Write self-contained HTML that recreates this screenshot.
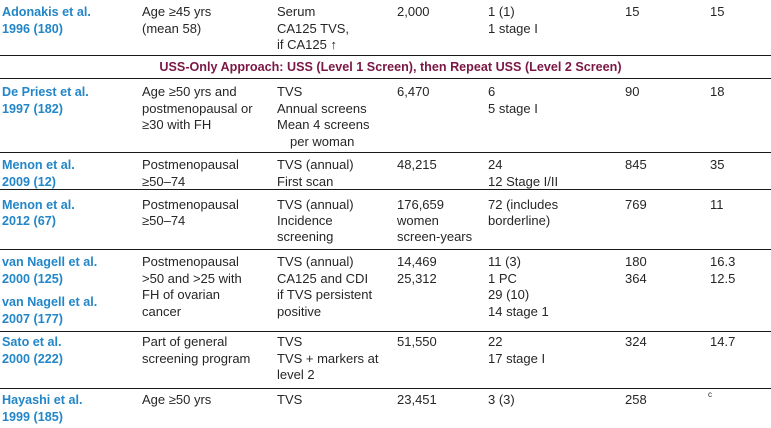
<!DOCTYPE html>
<html>
<head>
<meta charset="utf-8">
<style>
html,body{margin:0;padding:0;background:#fff;}
body{width:771px;height:428px;position:relative;overflow:hidden;font-family:"Liberation Sans",sans-serif;color:#262626;}
.c{position:absolute;font-size:13px;line-height:16.4px;white-space:nowrap;}
.b{font-weight:bold;color:#2286c8;font-size:12.6px;}
.h{position:absolute;left:0;width:771px;height:1px;background:#1a1a1a;}
.hd{position:absolute;left:5px;width:771px;text-align:center;top:59.3px;font-size:12.6px;line-height:16.4px;font-weight:bold;color:#7a1745;white-space:nowrap;}
.ind{padding-left:13px;}
</style>
</head>
<body>
<!-- rules -->
<div class="h" style="top:55px"></div>
<div class="h" style="top:78px"></div>
<div class="h" style="top:152px"></div>
<div class="h" style="top:189px"></div>
<div class="h" style="top:249px"></div>
<div class="h" style="top:331px"></div>
<div class="h" style="top:388px"></div>

<!-- Row 1 -->
<div class="c b" style="left:2px;top:4.3px">Adonakis et al.<br>1996 (180)</div>
<div class="c" style="left:142px;top:4.3px">Age ≥45 yrs<br>(mean 58)</div>
<div class="c" style="left:277px;top:4.3px">Serum<br>CA125 TVS,<br>if CA125 ↑</div>
<div class="c" style="left:397px;top:4.3px">2,000</div>
<div class="c" style="left:488px;top:4.3px">1 (1)<br>1 stage I</div>
<div class="c" style="left:625px;top:4.3px">15</div>
<div class="c" style="left:710px;top:4.3px">15</div>

<!-- Header -->
<div class="hd">USS-Only Approach: USS (Level 1 Screen), then Repeat USS (Level 2 Screen)</div>

<!-- De Priest -->
<div class="c b" style="left:2px;top:84.3px">De Priest et al.<br>1997 (182)</div>
<div class="c" style="left:142px;top:84.3px">Age ≥50 yrs and<br>postmenopausal or<br>≥30 with FH</div>
<div class="c" style="left:277px;top:84.3px">TVS<br>Annual screens<br>Mean 4 screens<br><span class="ind">per woman</span></div>
<div class="c" style="left:397px;top:84.3px">6,470</div>
<div class="c" style="left:488px;top:84.3px">6<br>5 stage I</div>
<div class="c" style="left:625px;top:84.3px">90</div>
<div class="c" style="left:710px;top:84.3px">18</div>

<!-- Menon 2009 -->
<div class="c b" style="left:2px;top:157.3px">Menon et al.<br>2009 (12)</div>
<div class="c" style="left:142px;top:157.3px">Postmenopausal<br>≥50–74</div>
<div class="c" style="left:277px;top:157.3px">TVS (annual)<br>First scan</div>
<div class="c" style="left:397px;top:157.3px">48,215</div>
<div class="c" style="left:488px;top:157.3px">24<br>12 Stage I/II</div>
<div class="c" style="left:625px;top:157.3px">845</div>
<div class="c" style="left:710px;top:157.3px">35</div>

<!-- Menon 2012 -->
<div class="c b" style="left:2px;top:196.5px">Menon et al.<br>2012 (67)</div>
<div class="c" style="left:142px;top:196.5px">Postmenopausal<br>≥50–74</div>
<div class="c" style="left:277px;top:196.5px">TVS (annual)<br>Incidence<br>screening</div>
<div class="c" style="left:397px;top:196.5px">176,659<br>women<br>screen-years</div>
<div class="c" style="left:488px;top:196.5px">72 (includes<br>borderline)</div>
<div class="c" style="left:625px;top:196.5px">769</div>
<div class="c" style="left:710px;top:196.5px">11</div>

<!-- van Nagell -->
<div class="c b" style="left:2px;top:254.3px">van Nagell et al.<br>2000 (125)</div>
<div class="c b" style="left:2px;top:294.3px">van Nagell et al.<br>2007 (177)</div>
<div class="c" style="left:142px;top:254.3px">Postmenopausal<br>&gt;50 and &gt;25 with<br>FH of ovarian<br>cancer</div>
<div class="c" style="left:277px;top:254.3px">TVS (annual)<br>CA125 and CDI<br>if TVS persistent<br>positive</div>
<div class="c" style="left:397px;top:254.3px">14,469<br>25,312</div>
<div class="c" style="left:488px;top:254.3px">11 (3)<br>1 PC<br>29 (10)<br>14 stage 1</div>
<div class="c" style="left:625px;top:254.3px">180<br>364</div>
<div class="c" style="left:710px;top:254.3px">16.3<br>12.5</div>

<!-- Sato -->
<div class="c b" style="left:2px;top:334.3px">Sato et al.<br>2000 (222)</div>
<div class="c" style="left:142px;top:334.3px">Part of general<br>screening program</div>
<div class="c" style="left:277px;top:334.3px">TVS<br>TVS + markers at<br>level 2</div>
<div class="c" style="left:397px;top:334.3px">51,550</div>
<div class="c" style="left:488px;top:334.3px">22<br>17 stage I</div>
<div class="c" style="left:625px;top:334.3px">324</div>
<div class="c" style="left:710px;top:334.3px">14.7</div>

<!-- Hayashi -->
<div class="c b" style="left:2px;top:392.3px">Hayashi et al.<br>1999 (185)</div>
<div class="c" style="left:142px;top:392.3px">Age ≥50 yrs</div>
<div class="c" style="left:277px;top:392.3px">TVS</div>
<div class="c" style="left:397px;top:392.3px">23,451</div>
<div class="c" style="left:488px;top:392.3px">3 (3)</div>
<div class="c" style="left:625px;top:392.3px">258</div>
<div class="c" style="left:708px;top:390px;font-size:8px;line-height:10px;">c</div>
</body>
</html>
